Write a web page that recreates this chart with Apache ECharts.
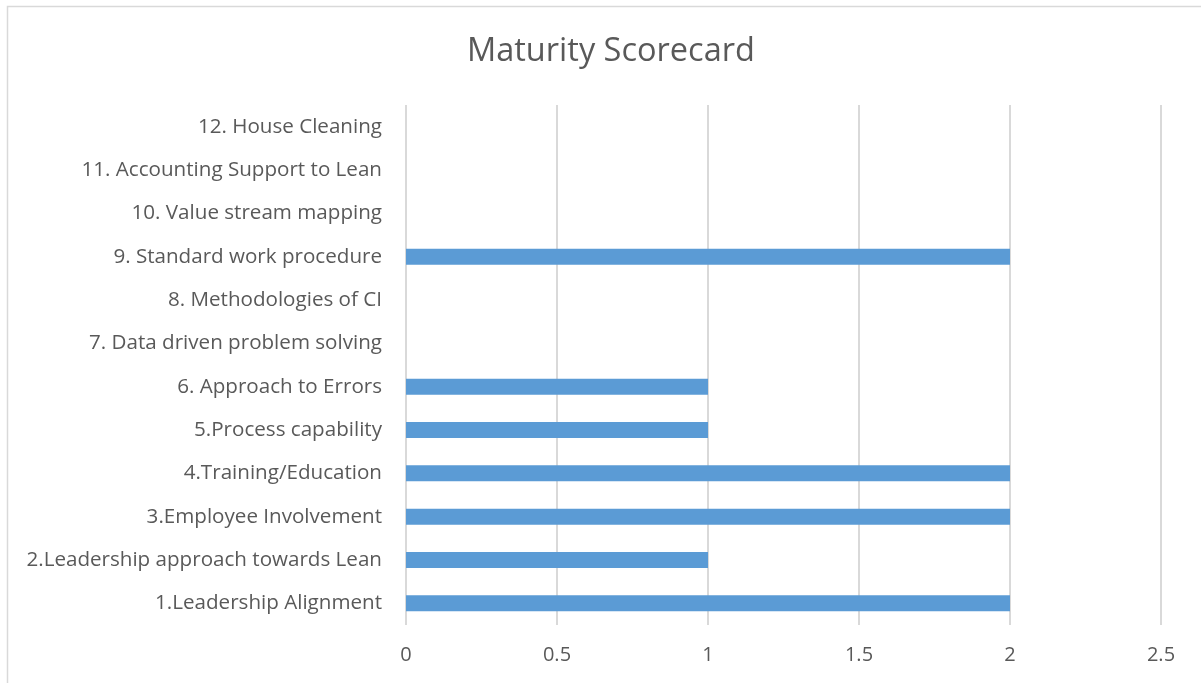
<!DOCTYPE html>
<html lang="en">

<head>
    <meta charset="utf-8">
    <title>Maturity Scorecard</title>
    <script src="https://cdn.jsdelivr.net/npm/echarts@6/dist/echarts.min.js"></script>
    <style>
        html, body { margin: 0; padding: 0; background: #fff; }
        #container { width: 1201px; height: 683px; }
    </style>
</head>

<body>
<div id="container"></div>
<script>
    const categories = [
        "1.Leadership Alignment",
        "2.Leadership approach towards Lean",
        "3.Employee Involvement",
        "4.Training/Education",
        "5.Process capability",
        "6. Approach to Errors",
        "7. Data driven problem solving",
        "8. Methodologies of CI",
        "9. Standard work procedure",
        "10. Value stream mapping",
        "11. Accounting Support to Lean",
        "12. House Cleaning"
    ];
    const scores = [2, 1, 2, 2, 1, 1, 0, 0, 2, 0, 0, 0];

    const textColor = "#595959";
    const fontFamily = "'Open Sans', Lato, sans-serif";

    const option = {
        animation: false,
        title: {
            text: "Maturity Scorecard",
            left: 462,
            top: 30,
            textStyle: {
                color: textColor,
                fontSize: 32.5,
                fontWeight: "normal",
                fontFamily: fontFamily
            }
        },
        graphic: [{
            type: "rect",
            shape: { x: 7.5, y: 6.5, width: 1200, height: 690 },
            style: { fill: "none", stroke: "#d9d9d9", lineWidth: 1.5 },
            silent: true
        }],
        grid: {
            left: 406,
            right: 40,
            top: 105,
            bottom: 58
        },
        xAxis: {
            type: "value",
            min: 0,
            max: 2.5,
            interval: 0.5,
            axisLine: { show: false },
            axisTick: { show: false },
            axisLabel: {
                color: textColor,
                fontSize: 20,
                fontFamily: fontFamily,
                margin: 20
            },
            splitLine: {
                lineStyle: { color: "#d9d9d9", width: 2 }
            }
        },
        yAxis: {
            type: "category",
            data: categories,
            axisLine: { show: false },
            axisTick: { show: false },
            axisLabel: {
                color: textColor,
                fontSize: 20.6,
                fontFamily: fontFamily,
                margin: 24
            }
        },
        series: [{
            type: "bar",
            data: scores,
            barWidth: 16,
            itemStyle: { color: "#5b9bd5" }
        }]
    };

    let chart = echarts.init(document.getElementById("container"));
    chart.setOption(option);
</script>
</body>

</html>
